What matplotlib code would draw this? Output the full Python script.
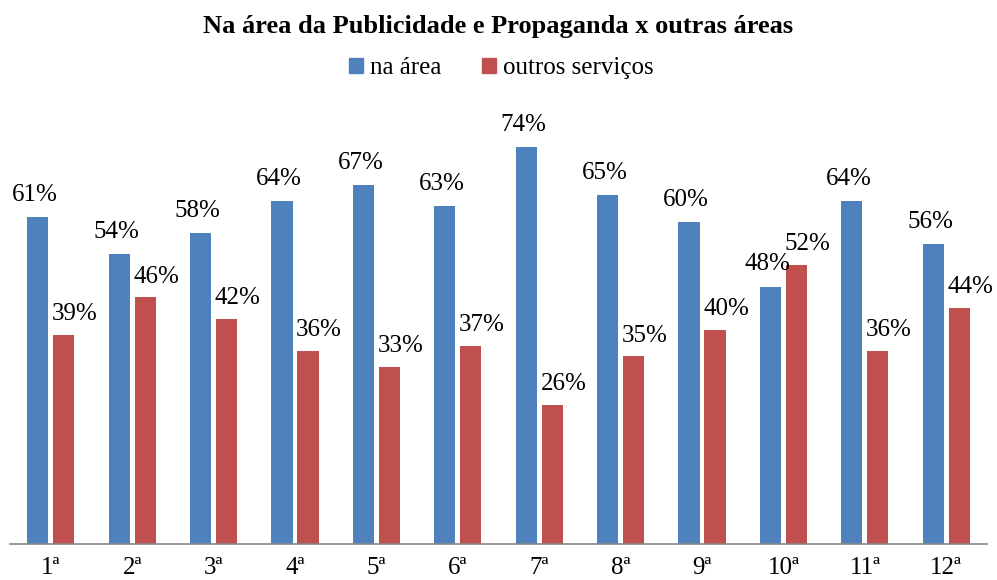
#!/usr/bin/env python3
"""Grouped bar chart: na área vs outros serviços por semestre."""

import matplotlib

matplotlib.use("Agg")
import matplotlib.pyplot as plt
import numpy as np
from matplotlib.patches import Patch

CATEGORIES = ["1ª", "2ª", "3ª", "4ª", "5ª", "6ª", "7ª", "8ª", "9ª", "10ª", "11ª", "12ª"]
NA_AREA = [61, 54, 58, 64, 67, 63, 74, 65, 60, 48, 64, 56]
OUTROS = [39, 46, 42, 36, 33, 37, 26, 35, 40, 52, 36, 44]

BLUE = "#4F81BD"
RED = "#C0504D"

plt.rcParams["font.family"] = ["Liberation Serif", "DejaVu Serif"]

fig = plt.figure(figsize=(9.97, 5.8), dpi=100)
ax = fig.add_axes([10 / 997, 36 / 580, 977 / 997, 429 / 580])

x = np.arange(len(CATEGORIES))
width = 0.26
off = 0.16
bars_a = ax.bar(x - off, NA_AREA, width, color=BLUE)
bars_b = ax.bar(x + off, OUTROS, width, color=RED)

for rect, v in zip(bars_a, NA_AREA):
    ax.annotate(f"{v}%", (rect.get_x() + rect.get_width() / 2, v),
                xytext=(-2, 8), textcoords="offset points",
                ha="center", va="bottom", fontsize=18, annotation_clip=False)
for rect, v in zip(bars_b, OUTROS):
    ax.annotate(f"{v}%", (rect.get_x() + rect.get_width() / 2, v),
                xytext=(8, 7), textcoords="offset points",
                ha="center", va="bottom", fontsize=18, annotation_clip=False)

ax.set_xlim(-0.5, len(CATEGORIES) - 0.5)
ax.set_ylim(0, 80)
ax.set_xticks(x)
ax.set_xticklabels(CATEGORIES, fontsize=18)
ax.tick_params(axis="x", length=0, pad=9)
ax.set_yticks([])
for side in ("top", "right", "left"):
    ax.spines[side].set_visible(False)
ax.spines["bottom"].set_color("#868686")
ax.spines["bottom"].set_linewidth(1.2)

fig.text(0.5, 1 - 27 / 580, "Na área da Publicidade e Propaganda x outras áreas",
         ha="center", va="center", fontsize=19, fontweight="bold")

handles = [Patch(color=BLUE, label="na área"), Patch(color=RED, label="outros serviços")]
fig.legend(handles=handles, loc="center", bbox_to_anchor=(0.503, 1 - 68 / 580), ncol=2,
           frameon=False, fontsize=18, handlelength=0.55, handleheight=0.55,
           handletextpad=0.3, columnspacing=1.6)

fig.savefig("out.png", dpi=100)
plt.close(fig)
